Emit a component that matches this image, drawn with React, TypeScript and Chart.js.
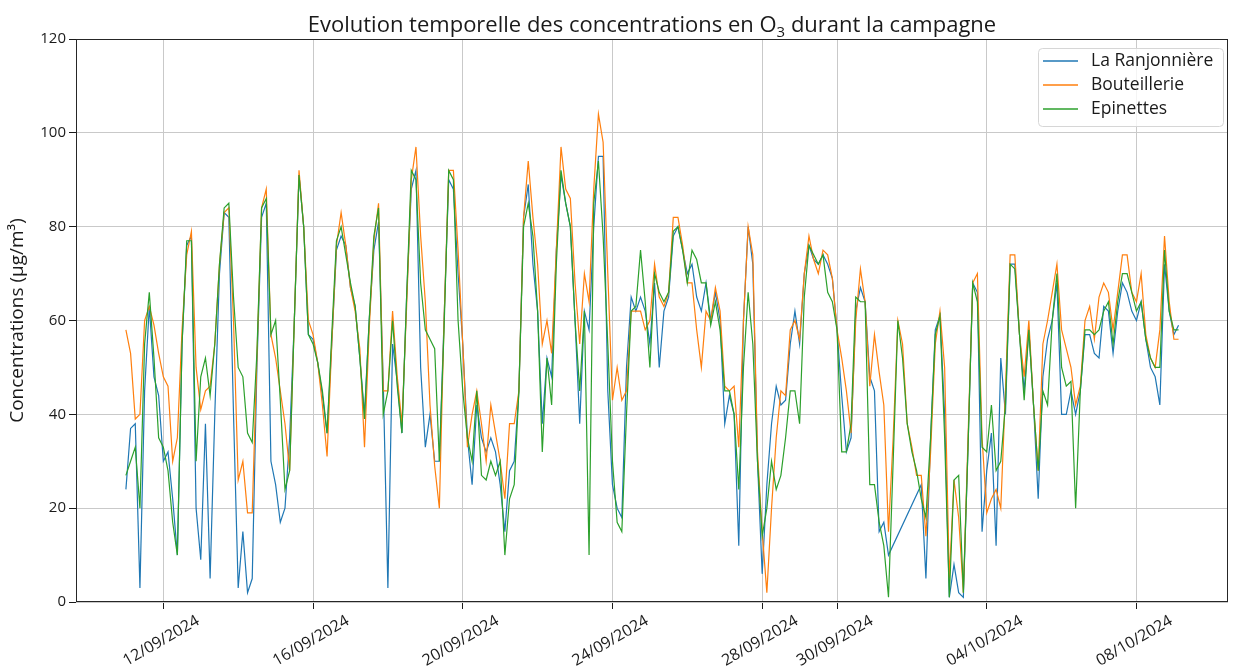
import React, { useEffect, useRef } from 'react';
import { Chart, registerables } from 'chart.js';

Chart.register(...registerables);

// Time axis: hours since 11/09/2024 00:00, one reading every 3 hours
const STEP_HOURS = 3;
const X_MIN = -32;
const X_MAX = 706.7;

const xTickHours = [24, 120, 216, 312, 408, 456, 552, 648];
const xTickLabels = ['12/09/2024', '16/09/2024', '20/09/2024', '24/09/2024', '28/09/2024', '30/09/2024', '04/10/2024', '08/10/2024'];

const Y_MIN = 0;
const Y_MAX = 120;
const Y_STEP = 20;

const seriesNames = ['La Ranjonnière', 'Bouteillerie', 'Epinettes'];
const seriesColors = ['#1f77b4', '#ff7f0e', '#2ca02c'];

const ranjonniere = [
  24, 37, 38, 3, 45, 63, 48, 44, 30, 32,
  22, 10, 55, 76, 78, 20, 9, 38, 5, 40,
  70, 83, 82, 40, 3, 15, 2, 5, 50, 82,
  85, 30, 25, 17, 20, 35, 60, 91, 80, 57,
  56, 51, 44, 36, 55, 75, 78, 76, 67, 63,
  52, 40, 60, 75, 81, 47, 3, 55, 47, 36,
  65, 88, 92, 50, 33, 40, 30, 30, 60, 90,
  88, 70, 55, 35, 25, 42, 35, 32, 35, 32,
  25, 15, 28, 30, 45, 82, 89, 72, 62, 38,
  52, 48, 75, 91, 85, 80, 60, 38, 62, 58,
  80, 95, 95, 45, 25, 20, 18, 50, 65, 62,
  65, 62, 55, 68, 50, 62, 65, 78, 80, 75,
  70, 72, 65, 62, 68, 60, 66, 60, 38, 44,
  40, 12, 60, 80, 72, 30, 6, 25, 38, 46,
  42, 43, 55, 62, 55, 70, 76, 73, 72, 74,
  72, 69, 58, 44, 32, 35, 62, 67, 64, 48,
  45, 15, 17, 10, null, null, null, null, null, null,
  25, 5, 35, 58, 61, 40, 1, 8, 2, 1,
  33, 68, 66, 15, 28, 36, 12, 52, 40, 72,
  72, 57, 45, 58, 42, 22, 48, 56, 60, 68,
  40, 40, 45, 40, 45, 57, 57, 53, 52, 63,
  62, 53, 62, 68, 66, 62, 60, 64, 56, 50,
  48, 42, 72, 62, 57, 59,
];

const bouteillerie = [
  58, 53, 39, 40, 60, 63, 59, 53, 48, 46,
  30, 35, 58, 74, 79, 50, 41, 45, 46, 55,
  72, 83, 84, 60, 26, 30, 19, 19, 52, 84,
  88, 57, 52, 45, 38, 28, 60, 92, 80, 60,
  57, 51, 42, 31, 55, 76, 83, 76, 67, 62,
  54, 33, 58, 77, 85, 45, 45, 62, 48, 38,
  63, 90, 97, 78, 64, 42, 29, 20, 60, 92,
  92, 75, 55, 33, 40, 45, 38, 30, 42, 36,
  30, 22, 38, 38, 45, 82, 94, 82, 72, 55,
  60, 53, 75, 97, 88, 86, 68, 55, 70, 64,
  88, 104, 98, 70, 43, 50, 43, 45, 62, 62,
  62, 58, 60, 72, 65, 63, 66, 82, 82, 76,
  68, 68, 58, 50, 62, 60, 67, 62, 46, 45,
  46, 33, 60, 80, 74, 32, 15, 2, 20, 35,
  45, 44, 58, 60, 56, 70, 78, 73, 70, 75,
  74, 69, 58, 52, 45, 36, 60, 71, 64, 46,
  57, 49, 42, 15, 35, 60, 55, 38, 33, 27,
  27, 14, 32, 55, 62, 50, 5, 26, 18, 2,
  35, 68, 70, 35, 19, 22, 24, 20, 45, 74,
  74, 57, 48, 60, 42, 28, 55, 60, 66, 72,
  58, 54, 50, 42, 46, 60, 63, 56, 65, 68,
  66, 58, 66, 74, 74, 66, 64, 70, 57, 52,
  50, 58, 78, 64, 56, 56,
];

const epinettes = [
  27, 30, 33, 20, 55, 66, 52, 35, 33, 28,
  17, 10, 55, 77, 77, 30, 48, 52, 44, 55,
  72, 84, 85, 65, 50, 48, 36, 34, 53, 84,
  86, 57, 60, 43, 24, 28, 60, 91, 80, 57,
  55, 51, 45, 36, 57, 77, 80, 74, 68, 63,
  52, 39, 60, 78, 84, 40, 45, 60, 46, 36,
  65, 92, 90, 68, 58, 56, 54, 30, 58, 92,
  90, 60, 45, 35, 30, 45, 27, 26, 30, 27,
  30, 10, 22, 25, 45, 80, 85, 78, 62, 32,
  52, 42, 72, 92, 85, 80, 60, 45, 62, 10,
  85, 94, 78, 55, 30, 17, 15, 40, 62, 63,
  75, 64, 50, 70, 66, 64, 66, 79, 80, 75,
  68, 75, 73, 68, 68, 59, 64, 58, 45, 45,
  40, 24, 50, 66, 55, 30, 14, 20, 30, 24,
  27, 35, 45, 45, 38, 65, 76, 74, 72, 74,
  66, 64, 58, 32, 32, 38, 65, 64, 64, 25,
  25, 17, 12, 1, 30, 60, 52, 38, 32, 28,
  22, 18, 35, 57, 61, 35, 1, 26, 27, 2,
  33, 68, 64, 33, 32, 42, 28, 30, 42, 72,
  71, 57, 43, 58, 42, 28, 45, 42, 60, 70,
  50, 46, 47, 20, 45, 58, 58, 57, 58, 62,
  64, 55, 64, 70, 70, 66, 62, 64, 56, 52,
  50, 50, 75, 62, 58, 58,
];

const allSeries = [ranjonniere, bouteillerie, epinettes];

const FONT = '"Open Sans", "DejaVu Sans", sans-serif';
const TEXT = '#1a1a1a';
const GRID = '#c9c9c9';

const toPoints = (values: (number | null)[]) =>
  values.map((v, i) => ({ x: i * STEP_HOURS, y: v }));

const decorPlugin = {
  id: 'decor',
  afterDraw(chart: any) {
    const { ctx, chartArea: a, scales } = chart;
    ctx.save();

    // frame
    ctx.strokeStyle = '#262626';
    ctx.lineWidth = 1;
    const l = Math.round(a.left) + 0.5;
    const t = Math.round(a.top) + 0.5;
    const r = Math.round(a.right) - 0.5;
    const b = Math.round(a.bottom) - 0.5;
    ctx.strokeRect(l, t, r - l, b - t);

    // x tick labels (rotated, centred on tick)
    ctx.font = `16px ${FONT}`;
    ctx.fillStyle = TEXT;
    ctx.textAlign = 'center';
    ctx.textBaseline = 'middle';
    xTickHours.forEach((h, i) => {
      const px = scales.x.getPixelForValue(h);
      ctx.save();
      ctx.translate(px - 2, a.bottom + 39);
      ctx.rotate(-Math.PI / 6);
      ctx.fillText(xTickLabels[i], 0, 0);
      ctx.restore();
    });

    // title with subscript
    const titleA = 'Evolution temporelle des concentrations en O';
    const titleSub = '3';
    const titleB = ' durant la campagne';
    ctx.textAlign = 'left';
    ctx.textBaseline = 'alphabetic';
    ctx.font = `22px ${FONT}`;
    const wA = ctx.measureText(titleA).width;
    const wB = ctx.measureText(titleB).width;
    ctx.font = `15px ${FONT}`;
    const wS = ctx.measureText(titleSub).width;
    const total = wA + wS + wB;
    let tx = (a.left + a.right) / 2 - total / 2;
    const ty = 32;
    ctx.font = `22px ${FONT}`;
    ctx.fillText(titleA, tx, ty);
    tx += wA;
    ctx.font = `15px ${FONT}`;
    ctx.fillText(titleSub, tx, ty + 5);
    tx += wS;
    ctx.font = `22px ${FONT}`;
    ctx.fillText(titleB, tx, ty);

    // y axis title
    ctx.save();
    ctx.translate(18, (a.top + a.bottom) / 2);
    ctx.rotate(-Math.PI / 2);
    ctx.textAlign = 'center';
    ctx.textBaseline = 'middle';
    ctx.font = `19px ${FONT}`;
    ctx.fillText('Concentrations (µg/m³)', 0, 0);
    ctx.restore();

    // legend box
    const bx = 1038.5, by = 48.5, bw = 185, bh = 78, rad = 4;
    ctx.beginPath();
    ctx.moveTo(bx + rad, by);
    ctx.lineTo(bx + bw - rad, by);
    ctx.quadraticCurveTo(bx + bw, by, bx + bw, by + rad);
    ctx.lineTo(bx + bw, by + bh - rad);
    ctx.quadraticCurveTo(bx + bw, by + bh, bx + bw - rad, by + bh);
    ctx.lineTo(bx + rad, by + bh);
    ctx.quadraticCurveTo(bx, by + bh, bx, by + bh - rad);
    ctx.lineTo(bx, by + rad);
    ctx.quadraticCurveTo(bx, by, bx + rad, by);
    ctx.closePath();
    ctx.fillStyle = 'rgba(255,255,255,0.8)';
    ctx.fill();
    ctx.strokeStyle = '#d6d6d6';
    ctx.lineWidth = 1;
    ctx.stroke();

    ctx.font = `17.5px ${FONT}`;
    ctx.textAlign = 'left';
    ctx.textBaseline = 'middle';
    seriesNames.forEach((name, i) => {
      const yy = 61 + i * 24;
      ctx.strokeStyle = seriesColors[i];
      ctx.lineWidth = 1.5;
      ctx.beginPath();
      ctx.moveTo(1043, yy);
      ctx.lineTo(1078, yy);
      ctx.stroke();
      ctx.fillStyle = TEXT;
      ctx.fillText(name, 1091, yy);
    });

    ctx.restore();
  },
};

export default function App() {
  const canvasRef = useRef<HTMLCanvasElement | null>(null);

  useEffect(() => {
    const canvas = canvasRef.current;
    if (!canvas) return;
    const chart = new Chart(canvas, {
      type: 'line',
      data: {
        datasets: allSeries.map((values, i) => ({
          label: seriesNames[i],
          data: toPoints(values),
          borderColor: seriesColors[i],
          backgroundColor: seriesColors[i],
          borderWidth: 1.2,
          pointRadius: 0,
          tension: 0,
          fill: false,
          spanGaps: i === 0,
          order: 3 - i,
        })),
      },
      options: {
        responsive: false,
        animation: false,
        devicePixelRatio: 1,
        events: [],
        layout: { padding: { top: 39, right: 5, left: 0, bottom: 0 } },
        plugins: {
          legend: { display: false },
          title: { display: false },
          tooltip: { enabled: false },
        },
        scales: {
          x: {
            type: 'linear',
            min: X_MIN,
            max: X_MAX,
            afterBuildTicks: (s: any) => {
              s.ticks = xTickHours.map((v) => ({ value: v }));
            },
            ticks: { display: false },
            grid: { color: GRID, lineWidth: 1, tickLength: 7, tickColor: TEXT, drawTicks: true },
            border: { display: false },
            afterFit: (s: any) => {
              s.height = 66;
            },
          },
          y: {
            min: Y_MIN,
            max: Y_MAX,
            ticks: {
              stepSize: Y_STEP,
              font: { family: FONT, size: 15 },
              color: TEXT,
              padding: 3,
            },
            grid: { color: GRID, lineWidth: 1, tickLength: 7, tickColor: TEXT, drawTicks: true },
            border: { display: false },
            afterFit: (s: any) => {
              s.width = 76;
            },
          },
        },
      } as any,
      plugins: [decorPlugin],
    });
    return () => chart.destroy();
  }, []);

  return (
    <div style={{ position: 'fixed', left: 0, top: 0, width: 1233, height: 668, background: '#fff' }}>
      <canvas ref={canvasRef} width={1233} height={668} style={{ display: 'block' }} />
    </div>
  );
}
